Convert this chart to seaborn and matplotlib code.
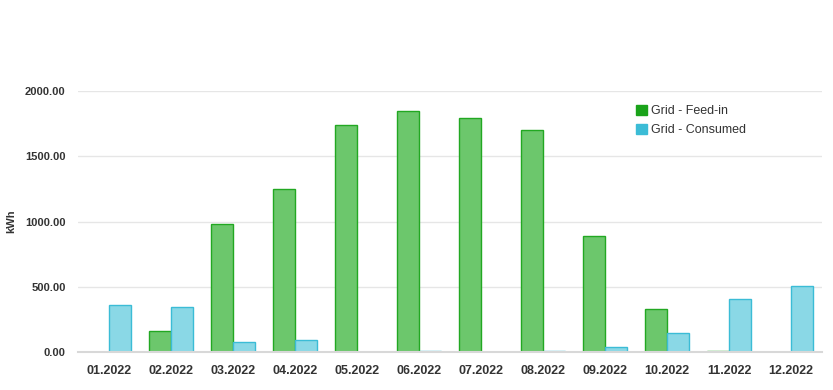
import pandas as pd
import numpy as np
import matplotlib
matplotlib.use("Agg")
import matplotlib.pyplot as plt
import seaborn as sns
from matplotlib.patches import Patch

# data
months = ["01.2022", "02.2022", "03.2022", "04.2022", "05.2022", "06.2022",
          "07.2022", "08.2022", "09.2022", "10.2022", "11.2022", "12.2022"]
feed_in = [2, 161, 981, 1249, 1740, 1847, 1793, 1701, 889, 330, 8, 3]
consumed = [360, 345, 77, 92, 3, 10, 2, 10, 38, 146, 406, 506]
series = ["Grid - Feed-in", "Grid - Consumed"]

df = pd.DataFrame({"month": months * 2,
                   "kWh": feed_in + consumed,
                   "series": [series[0]] * 12 + [series[1]] * 12})

sns.set_style("white")
plt.rcParams["font.family"] = ["Liberation Sans", "DejaVu Sans"]

fig = plt.figure(figsize=(8.33, 3.9), dpi=100)
ax = fig.add_axes([78 / 833, 38 / 390, 744 / 833, 261 / 390])

fill = ["#6cc76c", "#8ad8e6"]
edge = ["#22a822", "#3bbcd6"]
sns.barplot(data=df, x="month", y="kWh", hue="series", palette=fill,
            saturation=1, width=0.7, gap=0.0, ax=ax, legend=False, linewidth=1)
for i, cont in enumerate(ax.containers):
    for bar in cont:
        bar.set_edgecolor(edge[i])

ax.set_ylim(0, 2000)
ax.set_xlim(-0.5, 11.5)
ax.set_yticks([0, 500, 1000, 1500, 2000])
ax.set_yticklabels([f"{v:.2f}" for v in [0, 500, 1000, 1500, 2000]],
                   fontsize=8, fontweight="bold", color="#333333")
ax.yaxis.grid(True, color="#e6e6e6", linewidth=1)
ax.set_axisbelow(True)
ax.tick_params(axis="y", length=0, pad=9)

ax.set_xticks(range(12))
ax.set_xticklabels(months, fontsize=9, fontweight="bold", color="#333333")
ax.tick_params(axis="x", which="major", length=0, pad=9)
ax.set_xticks(np.arange(-0.5, 12, 1), minor=True)
ax.tick_params(axis="x", which="minor", length=6, color="#d8d8d8", width=1)

for s in ["top", "left", "right"]:
    ax.spines[s].set_visible(False)
ax.spines["bottom"].set_color("#d8d8d8")
ax.spines["bottom"].set_linewidth(1.5)

ax.set_xlabel("")
ax.set_ylabel("kWh", fontsize=8, fontweight="bold", color="#333333", labelpad=6)

handles = [Patch(facecolor="#1aa31a", edgecolor="#1aa31a"),
           Patch(facecolor="#3bbcd6", edgecolor="#3bbcd6")]
ax.legend(handles, series, loc="upper left", bbox_to_anchor=(0.735, 0.99),
          frameon=False, fontsize=9, handlelength=0.9, handleheight=0.9,
          handletextpad=0.3, labelspacing=0.5, labelcolor="#333333")

fig.savefig("out.png", dpi=100)
